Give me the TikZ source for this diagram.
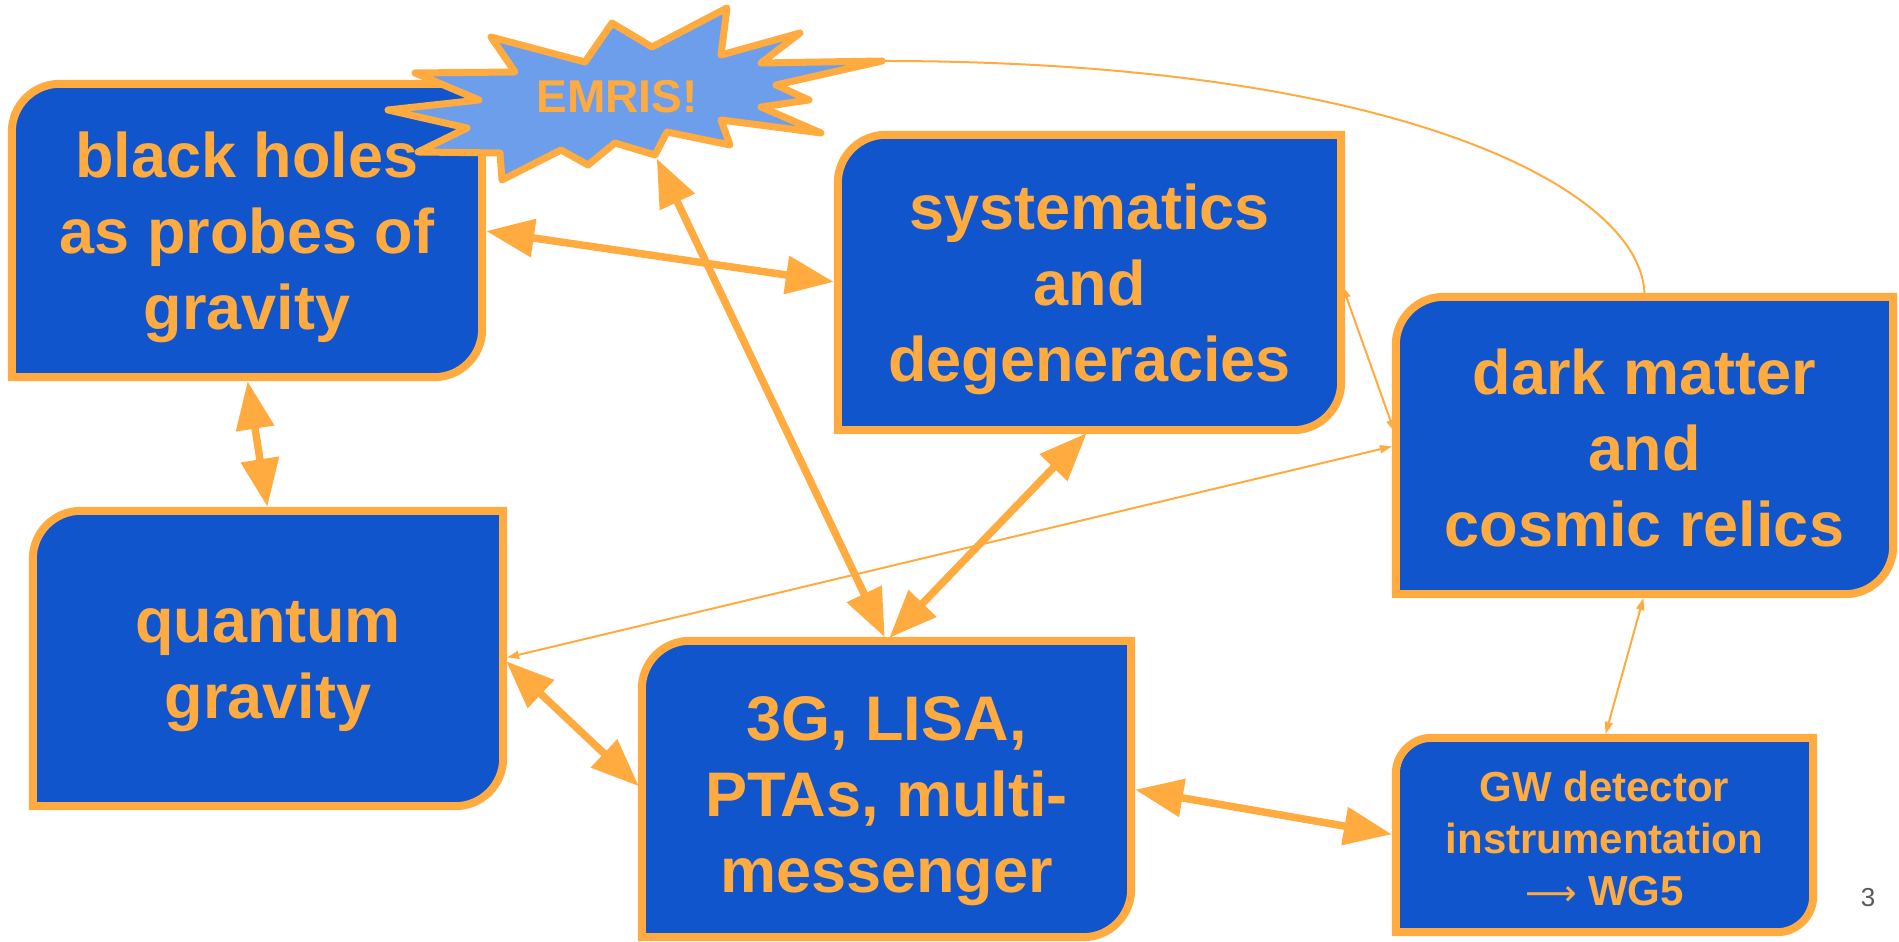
\documentclass[tikz,border=0pt]{standalone}
\usepackage{fontspec}
\setmainfont{Liberation Sans}
\newfontfamily\arrowfont{DejaVu Sans}
\usetikzlibrary{arrows.meta}
\usetikzlibrary{calc}

\definecolor{slideblue}{HTML}{1155CC}
\definecolor{slideorange}{HTML}{FFAB40}
\definecolor{starblue}{HTML}{6D9EEB}
\definecolor{pagegray}{HTML}{595959}

\pgfdeclarelayer{background}
\pgfsetlayers{background,main}

% box outline: round top left and bottom right corners only
\newcommand{\slidebox}[2]{%
  \filldraw[boxline] (#1.south west) -- ([yshift=-#2]#1.north west)
    arc[start angle=180, end angle=90, radius=#2] -- (#1.north east)
    -- ([yshift=#2]#1.south east) arc[start angle=0, end angle=-90, radius=#2] -- cycle;}

\begin{document}
\begin{tikzpicture}[x=1pt, y=1pt,
    boxshape/.style={inner sep=0pt},
    boxtext/.style={text=slideorange, font=\bfseries\fontsize{63}{76}\selectfont, align=center, inner sep=0pt},
    smalltext/.style={text=slideorange, font=\bfseries\fontsize{42}{52}\selectfont, align=center, inner sep=0pt},
    boxline/.style={draw=slideorange, fill=slideblue, line width=8pt},
    starline/.style={draw=slideorange, fill=starblue, line width=7pt, line join=round},
    bigarrow/.style={slideorange, line width=7.5pt, shorten <=4pt, shorten >=4pt,
      {Triangle[length=48pt,width=37pt]}-{Triangle[length=48pt,width=37pt]}},
    thinarrow/.style={slideorange, line width=2pt, shorten <=4pt, shorten >=4pt,
      {Triangle[length=12pt,width=8pt]}-{Triangle[length=12pt,width=8pt]}}]
  \useasboundingbox (0,0) rectangle (1899,942);

  \node[boxshape, minimum width=470pt, minimum height=293pt] (bh) at (247,711.5) {};
  \node[boxshape, minimum width=470pt, minimum height=295pt] (qg) at (268,283.5) {};
  \node[boxshape, minimum width=503pt, minimum height=295pt] (sys) at (1089.5,659.5) {};
  \node[boxshape, minimum width=497pt, minimum height=297pt] (dm) at (1644.5,496.5) {};
  \node[boxshape, minimum width=489pt, minimum height=296pt] (obs) at (886.5,153) {};
  \node[boxshape, minimum width=417pt, minimum height=194pt] (gw) at (1604.5,107) {};

  \begin{pgfonlayer}{background}
    \slidebox{bh}{48pt}
    \slidebox{qg}{48pt}
    \slidebox{sys}{48pt}
    \slidebox{dm}{48pt}
    \slidebox{obs}{48pt}
    \slidebox{gw}{36pt}
  \end{pgfonlayer}

  \node[boxtext] (bhtext) at ([yshift=-7pt]bh.center) {black holes\\as probes of\\gravity};
  \node[boxtext] (qgtext) at ([yshift=-8pt]qg.center) {quantum\\gravity};
  \node[boxtext] (systext) at ([yshift=-7pt]sys.center) {systematics\\and\\degeneracies};
  \node[boxtext] (dmtext) at ([yshift=-2pt]dm.center) {dark matter\\and\\cosmic relics};
  \node[boxtext] (obstext) at ([yshift=-12pt]obs.center) {3G, LISA,\\PTAs, multi-\\messenger};
  \node[smalltext] (gwtext) at ([yshift=-3pt]gw.center) {GW detector\\instrumentation\\{\arrowfont\mdseries\fontsize{36}{52}\selectfont ⟶} WG5};

  % EMRIS star
  \filldraw[starline] (415,869) -- (515,870) -- (491,905) -- (585,880) -- (612,919) -- (652,895)
    -- (727,934) -- (721,887) -- (800,909) -- (761,879) -- (882,881) -- (776,857) -- (809,842)
    -- (761,835) -- (821,809) -- (721,822) -- (730,797) -- (667,810) -- (655,787) -- (615,799)
    -- (588,777) -- (561,792) -- (502,762) -- (500,789) -- (418,790) -- (467,814) -- (388,832)
    -- (479,842) -- cycle;
  \node[text=slideorange, font=\bfseries\fontsize{46}{52}\selectfont, inner sep=0pt] (emris) at (617,845) {EMRIS!};
  \coordinate (emristip) at (655,787);
  \coordinate (emrisright) at (882,881);

  \draw[bigarrow] (bh.east) -- (sys.west);
  \draw[bigarrow] (bh.south) -- (qg.north);
  \draw[bigarrow] (qg.east) -- (obs.west);
  \draw[bigarrow] (emristip) -- (obs.north);
  \draw[bigarrow] (sys.south) -- (obs.north);
  \draw[bigarrow] (obs.east) -- (gw.west);

  \draw[thinarrow] (dm.south) -- (gw.north);
  \draw[thinarrow] (sys.east) -- ([yshift=10pt]dm.west);
  \draw[thinarrow] (dm.west) -- (qg.east);
  \draw[slideorange, line width=2pt] (emrisright) .. controls (1400,881) and (1646,752) .. (dm.north);

  \node[text=pagegray, font=\fontsize{26}{30}\selectfont, inner sep=0pt] (pagenum) at (1868,44) {3};
\end{tikzpicture}
\end{document}
